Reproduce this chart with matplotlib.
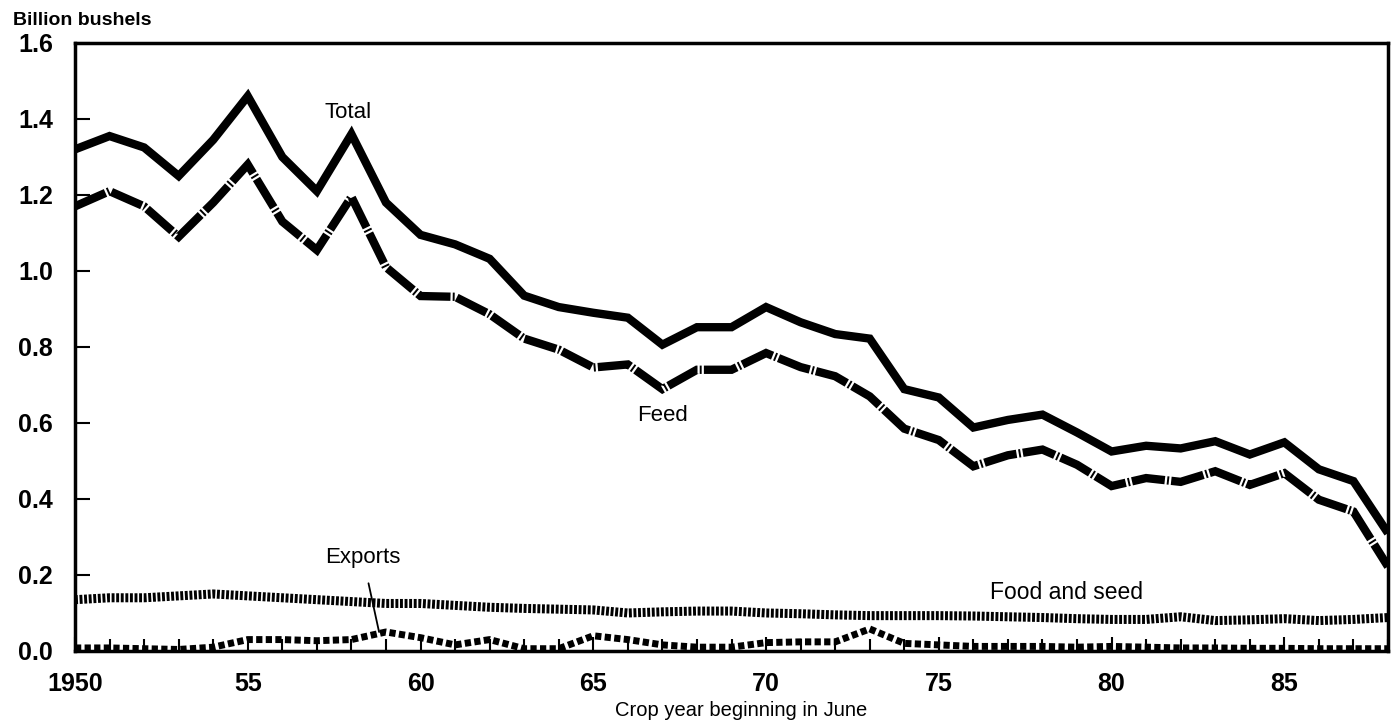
import matplotlib
matplotlib.use("Agg")
import matplotlib.pyplot as plt

years = list(range(1950, 1989))
total = [1.32, 1.355, 1.325, 1.25, 1.345, 1.46, 1.30, 1.21, 1.36, 1.18,
         1.095, 1.07, 1.032, 0.935, 0.905, 0.89, 0.877, 0.806, 0.852, 0.852,
         0.905, 0.865, 0.834, 0.822, 0.689, 0.667, 0.588, 0.608, 0.622, 0.575,
         0.525, 0.54, 0.533, 0.552, 0.517, 0.549, 0.478, 0.447, 0.31]
feed = [1.17, 1.21, 1.17, 1.09, 1.18, 1.28, 1.13, 1.055, 1.195, 1.01,
        0.934, 0.932, 0.886, 0.822, 0.793, 0.746, 0.754, 0.689, 0.74, 0.74,
        0.784, 0.747, 0.723, 0.67, 0.585, 0.555, 0.486, 0.515, 0.53, 0.49,
        0.434, 0.455, 0.445, 0.473, 0.437, 0.468, 0.398, 0.367, 0.222]
food_seed = [0.135, 0.14, 0.14, 0.145, 0.15, 0.145, 0.14, 0.135, 0.13, 0.125,
             0.125, 0.12, 0.115, 0.112, 0.11, 0.108, 0.10, 0.103, 0.105, 0.105,
             0.10, 0.098, 0.095, 0.093, 0.093, 0.093, 0.092, 0.09, 0.088, 0.085,
             0.083, 0.083, 0.09, 0.08, 0.082, 0.085, 0.08, 0.083, 0.088]
exports = [0.008, 0.008, 0.006, 0.004, 0.01, 0.03, 0.03, 0.027, 0.03, 0.05,
           0.035, 0.016, 0.03, 0.006, 0.006, 0.04, 0.03, 0.016, 0.01, 0.01,
           0.022, 0.024, 0.024, 0.058, 0.02, 0.016, 0.012, 0.012, 0.012, 0.01,
           0.012, 0.01, 0.008, 0.008, 0.007, 0.007, 0.006, 0.006, 0.006]

xticks = [1950, 1955, 1960, 1965, 1970, 1975, 1980, 1985]
xticklabels = ["1950", "55", "60", "65", "70", "75", "80", "85"]
yticks = [0.0, 0.2, 0.4, 0.6, 0.8, 1.0, 1.2, 1.4, 1.6]

plt.rcParams['font.family'] = ['Liberation Sans', 'DejaVu Sans']
plt.rcParams['lines.scale_dashes'] = False

fig = plt.figure(figsize=(13.94, 7.28), dpi=100)
ax = fig.add_axes([0.0538, 0.1058, 0.9419, 0.8352])

ax.plot(years, total, color='black', lw=6, solid_joinstyle='miter', solid_capstyle='butt', zorder=5)
l_feed, = ax.plot(years, feed, color='black', lw=6, dash_capstyle='butt', dash_joinstyle='miter', zorder=5)
l_feed.set_dashes([24, 1.6, 1.4, 1.6])
l_food, = ax.plot(years, food_seed, color='black', lw=6.5, dash_capstyle='butt', zorder=4)
l_food.set_dashes([2.1, 1.2])
l_exp, = ax.plot(years, exports, color='black', lw=5, dash_capstyle='butt', zorder=4)
l_exp.set_dashes([4.5, 2.4])

ax.set_xlim(1950, 1988)
ax.set_ylim(0, 1.6)
ax.set_xticks(xticks)
ax.set_xticklabels(xticklabels)
ax.set_xticks(years, minor=True)
ax.set_yticks(yticks)
ax.set_yticklabels([f"{v:.1f}" for v in yticks])

ax.tick_params(axis='x', which='major', direction='in', length=10, width=1.5, pad=15, labelsize=18)
ax.tick_params(axis='x', which='minor', direction='in', length=9, width=1.5)
ax.tick_params(axis='y', which='major', direction='in', length=11, width=1.5, pad=16, labelsize=18)
for lab in ax.get_xticklabels() + ax.get_yticklabels():
    lab.set_fontweight('bold')

for s in ax.spines.values():
    s.set_linewidth(2.5)

ax.set_xlabel("Crop year beginning in June", fontsize=14.5, va='top')
ax.xaxis.set_label_coords(0.507, -0.083)
fig.text(0.009, 0.9657, "Billion bushels", fontsize=14, fontweight='bold', ha='left', va='baseline')

ax.text(1957.9, 1.418, "Total", fontsize=16, ha='center', va='center')
ax.text(1967.0, 0.62, "Feed", fontsize=16, ha='center', va='center')
ax.text(1978.7, 0.153, "Food and seed", fontsize=16.5, ha='center', va='center')
ax.annotate("Exports", xy=(1958.8, 0.05), xytext=(1958.33, 0.247),
            fontsize=16, ha='center', va='center',
            arrowprops=dict(arrowstyle='-', color='black', lw=1.3, shrinkA=9.5, shrinkB=0))

fig.savefig("out.png", dpi=100)
